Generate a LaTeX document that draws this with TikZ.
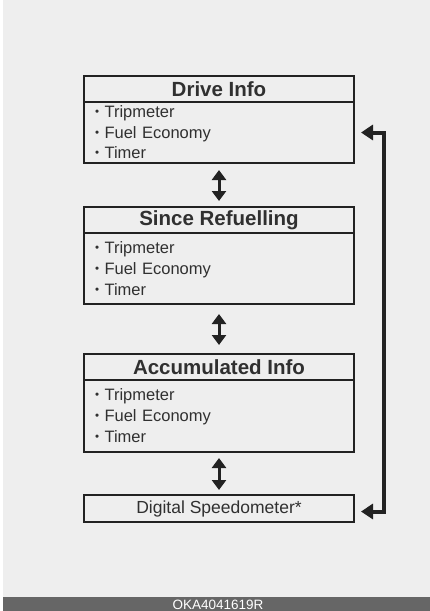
\documentclass[tikz,border=0pt]{standalone}
\usepackage{fontspec}
\setmainfont{Liberation Sans}
\usepackage{xcolor}
\usepackage{tikz}
\usetikzlibrary{positioning,arrows.meta}
\definecolor{bgc}{HTML}{EEEEEE}
\definecolor{ink}{HTML}{222222}
\definecolor{txt}{HTML}{303030}
\definecolor{barc}{HTML}{666666}
\newcommand\itm{\raisebox{0.25ex}{\scalebox{0.7}{•}}\ }
\tikzset{
  hd/.style={draw=ink,line width=2pt,fill=bgc,minimum width=270pt,minimum height=26pt,inner sep=0pt,outer sep=0pt,
    text=txt,font=\fontsize{20.5}{22}\selectfont\bfseries},
  bd/.style={draw=ink,line width=2pt,fill=bgc,text width=248pt,inner xsep=11pt,inner ysep=0pt,outer sep=0pt,align=left,
    text=txt,font=\fontsize{16.5}{20.5}\selectfont},
  sp/.style={draw=ink,line width=2pt,fill=bgc,minimum width=270pt,minimum height=27pt,inner sep=0pt,outer sep=0pt,
    text=txt,font=\fontsize{17.5}{20}\selectfont},
  dbl/.style={{Triangle[width=14pt,length=10pt]}-{Triangle[width=14pt,length=10pt]},line width=3pt,draw=ink},
  lp/.style={{Triangle[width=15pt,length=12pt]}-{Triangle[width=15pt,length=12pt]},line width=4pt,draw=ink,line join=miter},
}
\begin{document}
\begin{tikzpicture}[x=1pt,y=-1pt]
  \useasboundingbox (0,0) rectangle (430,611);
  \fill[white] (0,0) rectangle (430,611);
  \fill[bgc] (3,0) rectangle (430,611);
  \fill[barc] (3,597) rectangle (430,611);
  \node[text=white,font=\fontsize{13.5}{13.5}\selectfont] (code) at (218,604.5) {OKA4041619R};
  % menu boxes
  \node[hd] (dhead) at (219,89) {Drive Info};
  \node[bd,minimum height=61pt,below=0pt of dhead] (dbody) {\itm Tripmeter\\\itm Fuel Economy\\\itm Timer};
  \node[hd,below=44pt of dbody] (shead) {Since Refuelling};
  \node[bd,minimum height=71pt,below=0pt of shead,font=\fontsize{16.5}{21}\selectfont] (sbody) {\itm Tripmeter\\\itm Fuel Economy\\\itm Timer};
  \node[hd,below=50pt of sbody] (ahead) {Accumulated Info};
  \node[bd,minimum height=72pt,below=0pt of ahead,font=\fontsize{16.5}{21}\selectfont] (abody) {\itm Tripmeter\\\itm Fuel Economy\\\itm Timer};
  \node[sp,below=43pt of abody] (speed) {Digital Speedometer*};
  % arrows
  \draw[dbl,shorten <=7pt,shorten >=6pt] (dbody) -- (shead);
  \draw[dbl,shorten <=10pt,shorten >=9pt] (sbody) -- (ahead);
  \draw[dbl,shorten <=6pt,shorten >=5pt] (abody) -- (speed);
  \coordinate (rail) at (384,0);
  \draw[lp] ([xshift=7pt]dbody.east) -- (dbody.east -| rail) -- ([yshift=-3pt]speed.east -| rail) -- ([xshift=7pt,yshift=-3pt]speed.east);
\end{tikzpicture}
\end{document}
